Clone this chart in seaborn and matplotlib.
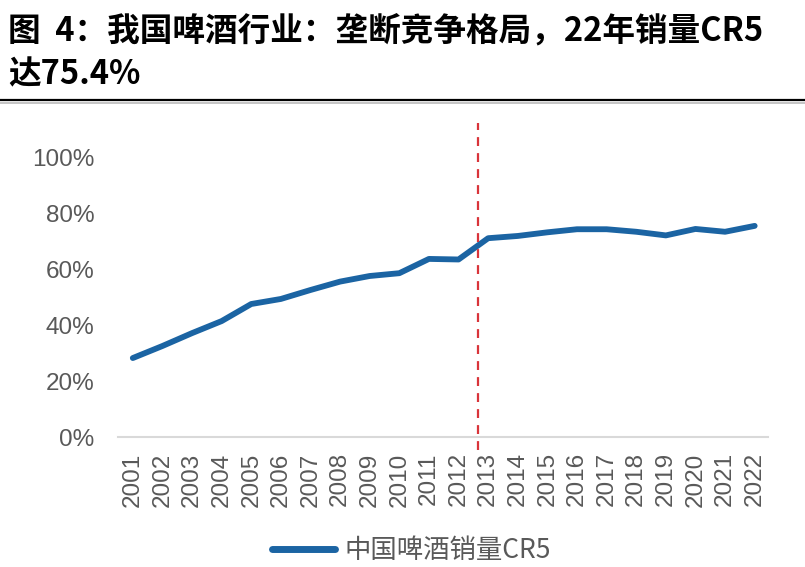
import numpy as np
import pandas as pd
import matplotlib
matplotlib.use("Agg")
import matplotlib.pyplot as plt
import seaborn as sns
from matplotlib.lines import Line2D
from matplotlib.ticker import PercentFormatter

# Data
years = [str(y) for y in range(2001, 2023)]
cr5 = [28.2, 32.5, 37.1, 41.4, 47.5, 49.3, 52.5, 55.5, 57.5, 58.5, 63.6,
       63.4, 71.0, 71.8, 73.1, 74.2, 74.2, 73.3, 72.0, 74.3, 73.3, 75.4]
series_name = "中国啤酒销量CR5"
title_line1 = "图  4：我国啤酒行业：垄断竞争格局，22年销量CR5"
title_line2 = "达75.4%"
split_pos = 11.65  # dashed divider between 2012 and 2013

df = pd.DataFrame({"year": years, "cr5": np.array(cr5) / 100})

sns.set_style("white")
plt.rcParams["font.family"] = ["Liberation Sans", "Noto Sans CJK SC", "DejaVu Sans"]

fig = plt.figure(figsize=(8.05, 5.67), dpi=100)
ax = fig.add_axes([118 / 805, 1 - 437 / 567, 650 / 805, 280 / 567])

line_color = "#1B64A3"
sns.lineplot(data=df, x="year", y="cr5", ax=ax, color=line_color,
             linewidth=4.2, sort=False, legend=False)
for l in ax.lines:
    l.set_solid_capstyle("round")
    l.set_solid_joinstyle("round")

ax.set_ylim(0, 1)
ax.set_xlim(-0.5, 21.45)
ax.yaxis.set_major_formatter(PercentFormatter(1.0, decimals=0))
ax.set_yticks(np.arange(0, 1.01, 0.2))
ax.set_xlabel("")
ax.set_ylabel("")
for s in ["top", "right", "left"]:
    ax.spines[s].set_visible(False)
ax.spines["bottom"].set_color("#D9D9D9")
ax.spines["bottom"].set_linewidth(1.5)
ax.tick_params(axis="both", length=0, labelsize=17.5, colors="#595959")
ax.tick_params(axis="y", pad=17)
ax.tick_params(axis="x", pad=11)
plt.setp(ax.get_xticklabels(), rotation=90)

# divider
ax.axvline(split_pos, ymin=-0.045, ymax=1.12, color="#D9343A",
           linestyle=(0, (4, 3.2)), linewidth=1.6, clip_on=False)

# title
title_font = ["Noto Sans CJK SC", "DejaVu Sans"]
fig.text(8 / 805, 1 - 31 / 567, title_line1, fontsize=23.5, fontweight="bold",
         family=title_font, va="center", ha="left", color="black")
fig.text(8 / 805, 1 - 75 / 567, title_line2, fontsize=23.5, fontweight="bold",
         family=title_font, va="center", ha="left", color="black")
fig.add_artist(Line2D([0, 1], [1 - 100 / 567] * 2, color="black", linewidth=1.6,
                      transform=fig.transFigure))
fig.add_artist(Line2D([0, 1], [1 - 102.5 / 567] * 2, color="#BBBBBB", linewidth=1.2,
                      transform=fig.transFigure))

# legend
handle = Line2D([0], [0], color=line_color, linewidth=5, solid_capstyle="round")
leg = fig.legend([handle], [series_name], loc="center", bbox_to_anchor=(411 / 805, 1 - 551 / 567),
                 frameon=False, handlelength=2.4, handletextpad=0.35,
                 prop={"family": ["Noto Sans CJK SC", "DejaVu Sans"], "size": 19})
for t in leg.get_texts():
    t.set_color("#595959")

fig.savefig("out.png", dpi=100)
